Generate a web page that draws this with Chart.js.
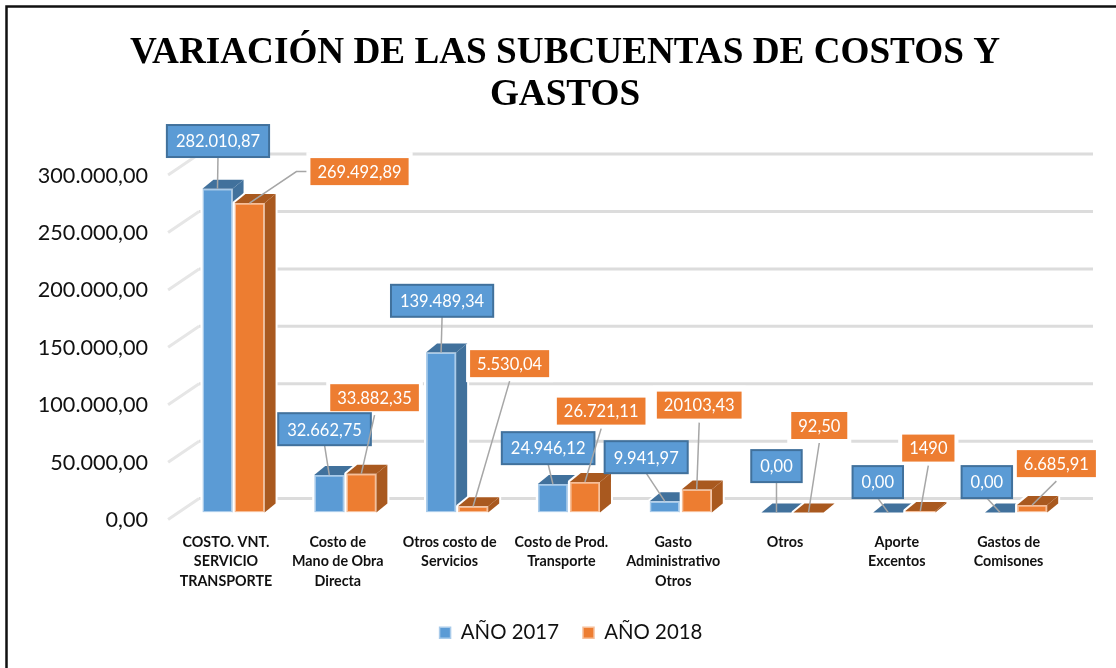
<!DOCTYPE html>
<html lang="es">
<head>
  <meta charset="UTF-8" />
  <title>Variación de las subcuentas de costos y gastos</title>
  <script src="https://cdn.jsdelivr.net/npm/chart.js"></script>
  <style>
    html, body { margin: 0; padding: 0; background: #fff; }
    canvas { display: block; }
  </style>
</head>
<body>
  <canvas id="chart" width="1116" height="668"></canvas>

  <script>
    // Data
    const categories = [
      ['COSTO. VNT.', 'SERVICIO', 'TRANSPORTE'],
      ['Costo de', 'Mano de Obra', 'Directa'],
      ['Otros costo de', 'Servicios'],
      ['Costo de Prod.', 'Transporte'],
      ['Gasto', 'Administrativo', 'Otros'],
      ['Otros'],
      ['Aporte', 'Excentos'],
      ['Gastos de', 'Comisones']
    ];
    const values2017 = [282010.87, 32662.75, 139489.34, 24946.12, 9941.97, 0, 0, 0];
    const values2018 = [269492.89, 33882.35, 5530.04, 26721.11, 20103.43, 92.5, 1490, 6685.91];
    const labels2017 = ['282.010,87', '32.662,75', '139.489,34', '24.946,12', '9.941,97', '0,00', '0,00', '0,00'];
    const labels2018 = ['269.492,89', '33.882,35', '5.530,04', '26.721,11', '20103,43', '92,50', '1490', '6.685,91'];
    const yTickLabels = ['0,00', '50.000,00', '100.000,00', '150.000,00', '200.000,00', '250.000,00', '300.000,00'];

    // Callout box centre, relative to the top of its bar
    const callouts2017 = [[0.5, -47.7], [-4.75, -45.9], [1, -51.6], [-4.75, -35.8], [-18.5, -44], [0, -46.5], [-10.5, -30.5], [-13.25, -30.5]];
    const callouts2018 = [[110, -31.5], [13.25, -76], [36.5, -142.6], [16.25, -70.8], [2.5, -84.4], [10.75, -87], [8, -62.8], [24.25, -41.3]];

    const BLUE = '#5B9BD5', BLUE_DARK = '#41719C';
    const ORANGE = '#ED7D31', ORANGE_DARK = '#A9591F';
    const DEPTH_X = 11, DEPTH_Y = 9;
    const CALLOUT_FONT = '16.5px Lato';

    function fillPoly(ctx, pts, color) {
      ctx.beginPath();
      pts.forEach((p, i) => i ? ctx.lineTo(p[0], p[1]) : ctx.moveTo(p[0], p[1]));
      ctx.closePath();
      ctx.fillStyle = color;
      ctx.fill();
    }

    function drawWallGrid(chart) {
      const { ctx, chartArea, scales } = chart;
      ctx.save();
      scales.y.ticks.forEach(t => {
        const py = scales.y.getPixelForValue(t.value);
        ctx.strokeStyle = '#DCDCDC';
        ctx.lineWidth = 3;
        ctx.beginPath();
        ctx.moveTo(chartArea.left + 21.5, py - 14);
        ctx.lineTo(chartArea.right + 21, py - 14);
        ctx.stroke();
        ctx.strokeStyle = '#E6E6E6';
        ctx.beginPath();
        ctx.moveTo(chartArea.left + 21.5, py - 14);
        ctx.lineTo(chartArea.left - 9.5, py + 7);
        ctx.stroke();
      });
      ctx.restore();
    }

    function drawBarDepth(chart, datasetIndex, top, side) {
      const { ctx } = chart;
      chart.getDatasetMeta(datasetIndex).data.forEach(bar => {
        const l = bar.x - bar.width / 2, r = bar.x + bar.width / 2;
        const topFace = [[l, bar.y], [r, bar.y], [r + DEPTH_X, bar.y - DEPTH_Y], [l + DEPTH_X, bar.y - DEPTH_Y]];
        const sideFace = [[r, bar.y], [r + DEPTH_X, bar.y - DEPTH_Y], [r + DEPTH_X, bar.base - DEPTH_Y], [r, bar.base]];
        // white halo round the whole block, it cuts the grid lines
        ctx.save();
        ctx.strokeStyle = '#fff';
        ctx.lineWidth = 4;
        ctx.lineJoin = 'round';
        ctx.beginPath();
        [[l, bar.base], [l, bar.y], [l + DEPTH_X, bar.y - DEPTH_Y], [r + DEPTH_X, bar.y - DEPTH_Y], [r + DEPTH_X, bar.base - DEPTH_Y], [r, bar.base]]
          .forEach((p, i) => i ? ctx.lineTo(p[0], p[1]) : ctx.moveTo(p[0], p[1]));
        ctx.closePath();
        ctx.stroke();
        ctx.fillStyle = '#fff';
        ctx.fill();
        ctx.restore();
        if (bar.base - bar.y > 1) fillPoly(ctx, sideFace, side);
        fillPoly(ctx, topFace, top);
      });
    }

    function calloutBox(ctx, bar, offset, text, isBlue) {
      const w = ctx.measureText(text).width + (isBlue ? 18 : 14);
      const h = isBlue ? 32 : 27;
      return { cx: bar.x + offset[0], cy: bar.y + offset[1], w, h };
    }

    // orange boxes carry a white margin that also cuts the grid lines
    function drawOrangeHalos(chart) {
      const { ctx } = chart;
      ctx.save();
      ctx.font = CALLOUT_FONT;
      ctx.fillStyle = '#fff';
      chart.getDatasetMeta(1).data.forEach((bar, i) => {
        const b = calloutBox(ctx, bar, callouts2018[i], labels2018[i], false);
        ctx.fillRect(b.cx - b.w / 2 - 4, b.cy - b.h / 2 - 6, b.w + 8, b.h + 11);
      });
      ctx.restore();
    }

    function drawCallouts(chart, datasetIndex, labels, offsets, isBlue) {
      const { ctx } = chart;
      ctx.save();
      ctx.font = CALLOUT_FONT;
      ctx.textAlign = 'center';
      ctx.textBaseline = 'middle';
      chart.getDatasetMeta(datasetIndex).data.forEach((bar, i) => {
        const { cx, cy, w, h } = calloutBox(ctx, bar, offsets[i], labels[i], isBlue);
        // leader line, with a gap under the orange boxes; the first 2018 box has an elbow on its left side
        ctx.strokeStyle = '#A6A6A6';
        ctx.lineWidth = 1.5;
        ctx.beginPath();
        if (!isBlue && i === 0) {
          ctx.moveTo(cx - w / 2 - 4, cy);
          ctx.lineTo(cx - w / 2 - 14, cy);
        } else {
          ctx.moveTo(cx, cy + h / 2 + (isBlue ? 0 : 4));
        }
        ctx.lineTo(bar.x, bar.y);
        ctx.stroke();
        ctx.fillStyle = isBlue ? BLUE : ORANGE;
        ctx.fillRect(cx - w / 2, cy - h / 2, w, h);
        if (isBlue) {
          ctx.strokeStyle = BLUE_DARK;
          ctx.lineWidth = 2;
          ctx.strokeRect(cx - w / 2, cy - h / 2, w, h);
        }
        ctx.fillStyle = '#fff';
        ctx.fillText(labels[i], cx, cy + 1);
      });
      ctx.restore();
    }

    const depthPlugin = {
      id: 'depthPlugin',
      afterLayout(chart) {
        // title and legend are not centred on the plot in the picture
        chart.titleBlock.left += 14;
        chart.titleBlock.right += 14;
        chart.legend.left += 20;
        chart.legend.right += 20;
      },
      beforeDatasetsDraw(chart) {
        drawWallGrid(chart);
        drawBarDepth(chart, 0, BLUE_DARK, BLUE_DARK);
        drawBarDepth(chart, 1, ORANGE_DARK, ORANGE_DARK);
      },
      afterDatasetsDraw(chart) {
        drawOrangeHalos(chart);
        drawCallouts(chart, 0, labels2017, callouts2017, true);
        drawCallouts(chart, 1, labels2018, callouts2018, false);
      },
      afterDraw(chart) {
        const { ctx, width, height } = chart;
        ctx.save();
        ctx.strokeStyle = '#111';
        ctx.lineWidth = 2.5;
        ctx.beginPath();
        ctx.moveTo(6.5, height);
        ctx.lineTo(6.5, 6.5);
        ctx.lineTo(width, 6.5);
        ctx.stroke();
        ctx.restore();
      }
    };

    Chart.defaults.font.family = 'Lato';

    new Chart(document.getElementById('chart').getContext('2d'), {
      type: 'bar',
      data: {
        labels: categories,
        datasets: [
          { label: 'AÑO 2017', data: values2017, backgroundColor: BLUE, borderColor: '#A9CBEA', borderWidth: 1.5, borderSkipped: false },
          { label: 'AÑO 2018', data: values2018, backgroundColor: ORANGE, borderColor: '#F6BE98', borderWidth: 1.5, borderSkipped: false }
        ]
      },
      options: {
        responsive: false,
        animation: false,
        devicePixelRatio: 1,
        categoryPercentage: 0.573,
        barPercentage: 0.94,
        layout: { padding: { left: 30, right: 44, top: 0, bottom: 15 } },
        plugins: {
          title: {
            display: true,
            text: ['VARIACIÓN DE LAS SUBCUENTAS DE COSTOS Y', 'GASTOS'],
            color: '#000',
            font: { family: 'Liberation Serif', size: 37.2, weight: 'bold', lineHeight: 1.13 },
            padding: { top: 32, bottom: 52 }
          },
          legend: {
            position: 'bottom',
            labels: {
              usePointStyle: true,
              pointStyle: 'rect',
              pointStyleWidth: 11,
              boxHeight: 11,
              padding: 24,
              color: '#111',
              font: { size: 20.4 }
            }
          },
          tooltip: { enabled: false }
        },
        scales: {
          x: {
            grid: { display: false, drawTicks: false },
            border: { display: false },
            afterFit(scale) { scale.height = 86; },
            ticks: {
              autoSkip: false,
              maxRotation: 0,
              padding: 20,
              labelOffset: -7.5,
              color: '#111',
              font: { size: 14.3, weight: 'bold', lineHeight: 1.36 }
            }
          },
          y: {
            min: 0,
            max: 300000,
            grid: { display: false, drawTicks: false },
            border: { display: false },
            afterFit(scale) { scale.width = 147.6; },
            ticks: {
              stepSize: 50000,
              padding: 29.6,
              labelOffset: 7.5,
              color: '#111',
              font: { size: 21.6 },
              callback: (value, index) => yTickLabels[index]
            }
          }
        }
      },
      plugins: [depthPlugin]
    });
  </script>
</body>
</html>
